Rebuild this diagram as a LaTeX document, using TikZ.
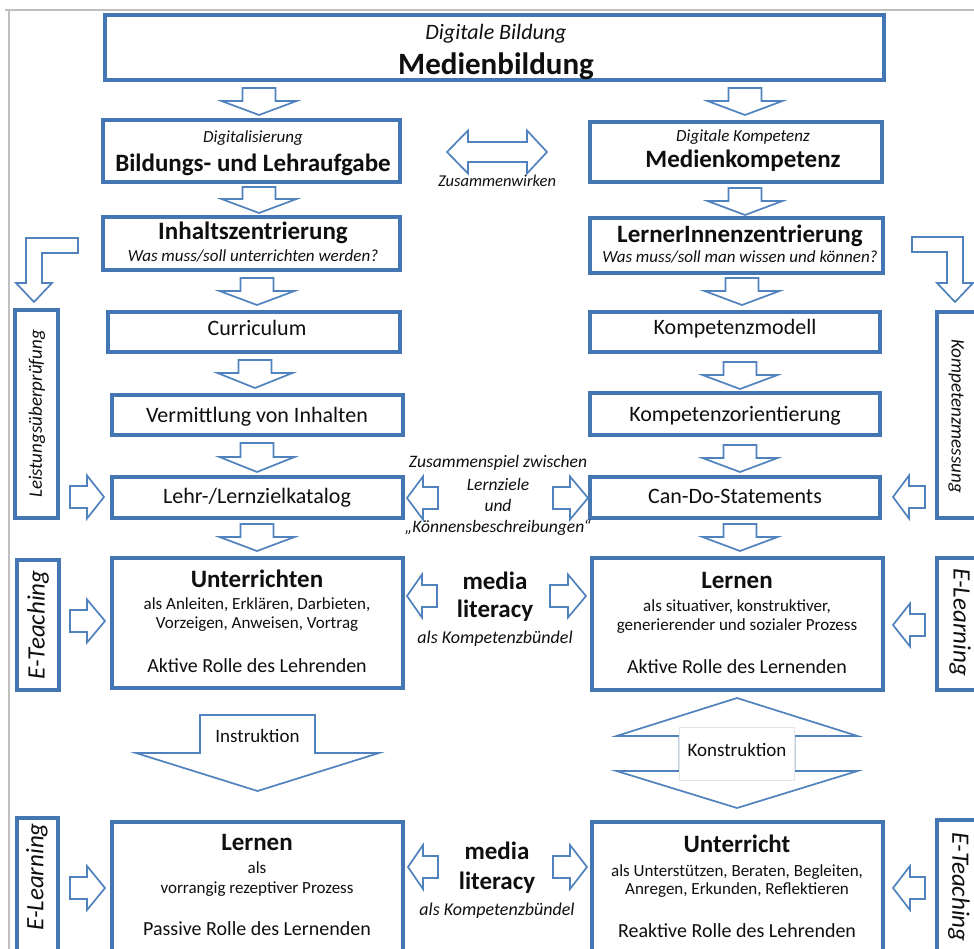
\documentclass[tikz,border=0pt]{standalone}
\usepackage{fontspec}
\setmainfont{Carlito}
\definecolor{bblue}{RGB}{68,118,180}
\definecolor{ablue}{RGB}{80,130,190}
\definecolor{txt}{RGB}{15,15,15}
\newcommand{\fsz}[1]{\fontsize{#1}{#1}\selectfont}
\tikzset{
  bx/.style={draw=bblue, line width=3.1pt, fill=white, inner sep=0pt, outer sep=0pt},
  blk/.style={draw=ablue, line width=1.7pt, fill=white, line join=miter},
  tb/.style={anchor=base, inner sep=0pt, text=txt},
  tv/.style={anchor=center, inner sep=0pt, text=txt},
}
\newcommand{\bbox}[5]{\node[bx, minimum width={#4-#2}, minimum height={#5-#3}] (#1) at ({(#2+#4)/2},{(#3+#5)/2}) {};}
% vertical down arrow: cx, ytop, ybase, ytip, shaft half, head half
\newcommand{\adown}[6]{\draw[blk] ({#1-#5},#2) -- ({#1+#5},#2) -- ({#1+#5},#3) -- ({#1+#6},#3) -- (#1,#4) -- ({#1-#6},#3) -- ({#1-#5},#3) -- cycle;}
% horizontal arrow: cy, xtail, xbase, xtip, shaft half, head half
\newcommand{\ahor}[6]{\draw[blk] (#2,{#1-#5}) -- (#3,{#1-#5}) -- (#3,{#1-#6}) -- (#4,#1) -- (#3,{#1+#6}) -- (#3,{#1+#5}) -- (#2,{#1+#5}) -- cycle;}
\begin{document}
\begin{tikzpicture}[x=1pt,y=-1pt]
\useasboundingbox (0,0) rectangle (974,949);
\clip (0,0) rectangle (974,949);
\fill[white] (0,0) rectangle (974,949);
\draw[gray!50, line width=1.6pt] (5,10) -- (974,10);
\draw[gray!50, line width=1.6pt] (9,10) -- (9,949);

% ---------- boxes ----------
\bbox{top}{105}{15}{884}{80}
\bbox{bl2}{103}{120}{400}{182}
\bbox{bl3}{103}{217}{400}{270}
\bbox{bl4}{108}{312}{400}{352}
\bbox{bl5}{112}{395}{403}{435}
\bbox{bl6}{112}{477}{403}{518}
\bbox{bl7}{112}{558}{403}{688}
\bbox{bl8}{112}{822}{403}{990}
\bbox{br2}{590}{122}{882}{182}
\bbox{br3}{590}{218}{883}{273}
\bbox{br4}{590}{312}{880}{352}
\bbox{br5}{590}{393}{880}{435}
\bbox{br6}{590}{477}{880}{518}
\bbox{br7}{592}{558}{883}{690}
\bbox{br8}{592}{822}{883}{990}
% side boxes
\bbox{sl1}{15}{310}{58}{518}
\bbox{sl2}{17}{560}{59}{690}
\bbox{sl3}{17}{818}{58}{990}
\bbox{sr1}{937}{312}{990}{518}
\bbox{sr2}{937}{558}{990}{690}
\bbox{sr3}{937}{820}{990}{990}

% ---------- texts ----------
\node[tb,font=\fsz{22}\itshape] (t1a) at (496,40) {Digitale Bildung};
\node[tb,font=\fsz{31}\bfseries] (t1b) at (496,75) {Medienbildung};

\node[tb,font=\fsz{17}\itshape] (l2a) at (253,143) {Digitalisierung};
\node[tb,font=\fsz{25}\bfseries] (l2b) at (253,172) {Bildungs- und Lehraufgabe};
\node[tb,font=\fsz{25}\bfseries] (l3a) at (253,240) {Inhaltszentrierung};
\node[tb,font=\fsz{17}\itshape] (l3b) at (253,262) {Was muss/soll unterrichten werden?};
\node[tb,font=\fsz{22}] (l4) at (257,336) {Curriculum};
\node[tb,font=\fsz{22}] (l5) at (257,422) {Vermittlung von Inhalten};
\node[tb,font=\fsz{22}] (l6) at (257,503) {Lehr-/Lernzielkatalog};
\node[tb,font=\fsz{25}\bfseries] (l7a) at (257,587) {Unterrichten};
\node[tb,font=\fsz{17}] (l7b) at (257,609) {als Anleiten, Erklären, Darbieten,};
\node[tb,font=\fsz{17}] (l7c) at (257,628) {Vorzeigen, Anweisen, Vortrag};
\node[tb,font=\fsz{20}] (l7d) at (257,672) {Aktive Rolle des Lehrenden};
\node[tb,font=\fsz{25}\bfseries] (l8a) at (257,850) {Lernen};
\node[tb,font=\fsz{17}] (l8b) at (257,873) {als};
\node[tb,font=\fsz{17}] (l8c) at (257,893) {vorrangig rezeptiver Prozess};
\node[tb,font=\fsz{20}] (l8d) at (257,935) {Passive Rolle des Lernenden};

\node[tb,font=\fsz{17}\itshape] (r2a) at (743,142) {Digitale Kompetenz};
\node[tb,font=\fsz{25}\bfseries] (r2b) at (743,168) {Medienkompetenz};
\node[tb,font=\fsz{25}\bfseries] (r3a) at (740,243) {LernerInnenzentrierung};
\node[tb,font=\fsz{17}\itshape] (r3b) at (740,263) {Was muss/soll man wissen und können?};
\node[tb,font=\fsz{22}] (r4) at (735,335) {Kompetenzmodell};
\node[tb,font=\fsz{22}] (r5) at (735,421) {Kompetenzorientierung};
\node[tb,font=\fsz{22}] (r6) at (735,503) {Can-Do-Statements};
\node[tb,font=\fsz{25}\bfseries] (r7a) at (737,588) {Lernen};
\node[tb,font=\fsz{17}] (r7b) at (737,611) {als situativer, konstruktiver,};
\node[tb,font=\fsz{17}] (r7c) at (737,630) {generierender und sozialer Prozess};
\node[tb,font=\fsz{20}] (r7d) at (737,673) {Aktive Rolle des Lernenden};
\node[tb,font=\fsz{25}\bfseries] (r8a) at (737,852) {Unterricht};
\node[tb,font=\fsz{17}] (r8b) at (737,876) {als Unterstützen, Beraten, Begleiten,};
\node[tb,font=\fsz{17}] (r8c) at (737,894) {Anregen, Erkunden, Reflektieren};
\node[tb,font=\fsz{20}] (r8d) at (737,937) {Reaktive Rolle des Lehrenden};

% side texts
\node[tv,rotate=90,font=\fsz{19}\itshape] (s1) at (37,414) {Leistungsüberprüfung};
\node[tv,rotate=90,font=\fsz{25}\itshape] (s2) at (38,625) {E-Teaching};
\node[tv,rotate=90,font=\fsz{25}\itshape] (s3) at (37,877) {E-Learning};
\node[tv,rotate=-90,font=\fsz{19}\itshape] (s4) at (956,416) {Kompetenzmessung};
\node[tv,rotate=-90,font=\fsz{25}\itshape] (s5) at (960,622) {E-Learning};
\node[tv,rotate=-90,font=\fsz{25}\itshape] (s6) at (959,887) {E-Teaching};

% middle texts
\node[tb,font=\fsz{16.5}\itshape] (zw) at (497,187) {Zusammenwirken};
\node[tb,font=\fsz{17.5}\itshape] (zs1) at (498,467) {Zusammenspiel zwischen};
\node[tb,font=\fsz{17.5}\itshape] (zs2) at (498,490) {Lernziele};
\node[tb,font=\fsz{17.5}\itshape] (zs3) at (498,511) {und};
\node[tb,font=\fsz{17.5}\itshape] (zs4) at (498,532) {„Könnensbeschreibungen“};
\node[tb,font=\fsz{25}\bfseries] (m1a) at (495,589) {media};
\node[tb,font=\fsz{25}\bfseries] (m1b) at (495,617) {literacy};
\node[tb,font=\fsz{18}\itshape] (m1c) at (495,643) {als Kompetenzbündel};
\node[tb,font=\fsz{25}\bfseries] (m2a) at (497,859) {media};
\node[tb,font=\fsz{25}\bfseries] (m2b) at (497,889) {literacy};
\node[tb,font=\fsz{18}\itshape] (m2c) at (497,915) {als Kompetenzbündel};

% ---------- small down arrows ----------
\adown{259}{88}{101}{115}{16.5}{37.5}
\adown{259}{187}{199}{213}{16.5}{37.5}
\adown{257}{278}{291}{305}{16.5}{37.5}
\adown{255}{360}{373}{388}{16.5}{37.5}
\adown{257}{443}{457}{472}{16.5}{37.5}
\adown{257}{524}{537}{551}{16.5}{37.5}
\adown{745}{88}{101}{115}{16.5}{37.5}
\adown{745}{188}{201}{215}{16.5}{37.5}
\adown{742}{278}{291}{305}{16.5}{37.5}
\adown{740}{362}{375}{389}{16.5}{37.5}
\adown{740}{445}{458}{472}{16.5}{37.5}
\adown{740}{524}{537}{551}{16.5}{37.5}

% ---------- horizontal arrows ----------
\ahor{497}{70}{87}{104}{11}{21.5}
\ahor{498}{438}{423}{407}{11}{21.5}
\ahor{498}{553}{570}{588}{11}{21.5}
\ahor{497}{925}{909}{893}{11}{21.5}
\ahor{621}{70}{87}{105}{11}{21.5}
\ahor{596}{437}{422}{407}{11}{21.5}
\ahor{596}{550}{568}{586}{11}{21.5}
\ahor{625}{925}{910}{893}{11}{21.5}
\ahor{888}{70}{87}{105}{11}{22}
\ahor{867}{438}{423}{408}{11}{22}
\ahor{867}{553}{570}{587}{11}{22}
\ahor{888}{925}{910}{893}{11}{22}

% Zusammenwirken double arrow
\draw[blk] (447,152) -- (468,130.5) -- (468,142) -- (527,142) -- (527,130.5) -- (547,152)
  -- (527,173.5) -- (527,162) -- (468,162) -- (468,173.5) -- cycle;

% bent arrows
\draw[blk] (78,238) -- (26,238) -- (26,283) -- (16,283) -- (34,302) -- (52,283) -- (42,283) -- (42,253) -- (78,253) -- cycle;
\draw[blk] (912,237) -- (963,237) -- (963,283) -- (973,283) -- (955,302) -- (937,283) -- (947,283) -- (947,252) -- (912,252) -- cycle;

% Instruktion
\adown{257.5}{715}{753}{791}{57.5}{121.5}
\node[tb,font=\fsz{19}] (ins) at (257.5,742) {Instruktion};

% Konstruktion
\draw[blk] (737,698) -- (857.5,736) -- (794.5,736) -- (794.5,771) -- (857.5,771) -- (737,808)
  -- (616.5,771) -- (679.5,771) -- (679.5,736) -- (616.5,736) -- cycle;
\node[draw=gray!20, fill=white, line width=0.8pt, minimum width=115, minimum height=53, inner sep=0pt] (konsbox) at (737,753.5) {};
\node[tb,font=\fsz{19}] (kons) at (737,756) {Konstruktion};
\end{tikzpicture}
\end{document}
